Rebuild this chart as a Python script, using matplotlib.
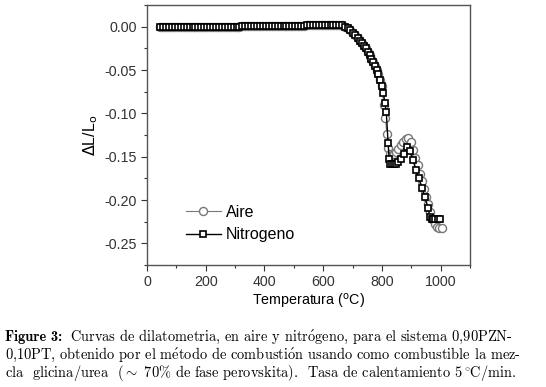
import matplotlib
matplotlib.use("Agg")
import matplotlib.pyplot as plt
from matplotlib.ticker import MultipleLocator, FormatStrFormatter

plt.rcParams['axes.unicode_minus'] = False
plt.rcParams['font.family'] = ['Liberation Sans', 'DejaVu Sans']

# Nitrogeno (squares)
temp_n2 = [45, 55, 65, 75, 85, 95, 105, 115, 125, 135, 145, 155, 165, 175, 185, 195,
           205, 215, 225, 235, 245, 255, 265, 275, 285, 295, 305, 315, 325, 335, 345,
           355, 365, 375, 385, 395, 405, 415, 425, 435, 445, 455, 465, 475, 485, 495,
           505, 515, 525, 535, 545, 555, 565, 575, 585, 595, 605, 615, 625, 635, 645,
           655, 665, 675, 684, 693, 702, 710, 718, 726, 733, 740, 746, 752, 758, 764,
           770, 776, 782, 788, 794, 800, 805, 810, 815, 821, 825, 829, 835, 841, 848,
           856, 865, 875, 885, 895, 906, 916, 926, 937, 947, 957, 964, 969, 975, 982,
           990, 998]
dl_n2 = [0.000, 0.000, 0.000, 0.000, 0.000, 0.000, 0.000, 0.000, 0.000, 0.000, 0.000,
         0.000, 0.000, 0.000, 0.000, 0.000, 0.000, 0.000, 0.000, 0.000, 0.000, 0.000,
         0.000, 0.000, 0.000, 0.000, 0.000, 0.000, 0.0005, 0.0005, 0.0005, 0.0005,
         0.0005, 0.0005, 0.0005, 0.0005, 0.0005, 0.0005, 0.0005, 0.0005, 0.0005,
         0.0005, 0.0005, 0.001, 0.001, 0.001, 0.001, 0.001, 0.001, 0.001, 0.0015,
         0.0015, 0.0015, 0.002, 0.002, 0.002, 0.002, 0.002, 0.002, 0.002, 0.002,
         0.002, 0.0015, 0.000, -0.002, -0.004, -0.007, -0.010, -0.013, -0.016, -0.019,
         -0.022, -0.025, -0.029, -0.033, -0.037, -0.041, -0.045, -0.050, -0.055,
         -0.061, -0.068, -0.076, -0.088, -0.099, -0.134, -0.153, -0.159, -0.159,
         -0.159, -0.158, -0.156, -0.153, -0.147, -0.139, -0.144, -0.154, -0.165,
         -0.175, -0.186, -0.197, -0.209, -0.220, -0.222, -0.222, -0.222, -0.222,
         -0.222]

# Aire (circles)
temp_air = [45, 55, 65, 75, 85, 95, 105, 115, 125, 135, 145, 155, 165, 175, 185, 195,
            205, 215, 225, 235, 245, 255, 265, 275, 285, 295, 305, 315, 325, 335, 345,
            355, 365, 375, 385, 395, 405, 415, 425, 435, 445, 455, 465, 475, 485, 495,
            505, 515, 525, 535, 545, 555, 565, 575, 585, 595, 605, 615, 625, 635, 645,
            655, 665, 675, 684, 693, 702, 710, 718, 726, 733, 740, 746, 752, 758, 764,
            770, 776, 782, 788, 794, 800, 806, 812, 817, 822, 827, 833, 840, 848, 856,
            865, 873, 882, 890, 898, 906, 914, 922, 930, 937, 944, 951, 958, 965, 972,
            980, 988, 996, 1003]
dl_air = [0.000, 0.000, 0.000, 0.000, 0.000, 0.000, 0.000, 0.000, 0.000, 0.000, 0.000,
          0.000, 0.000, 0.000, 0.000, 0.000, 0.000, 0.000, 0.000, 0.000, 0.000, 0.000,
          0.000, 0.000, 0.000, 0.000, 0.000, 0.000, 0.0005, 0.0005, 0.0005, 0.0005,
          0.0005, 0.0005, 0.0005, 0.0005, 0.0005, 0.0005, 0.0005, 0.0005, 0.0005,
          0.0005, 0.0005, 0.001, 0.001, 0.001, 0.001, 0.001, 0.001, 0.001, 0.0015,
          0.0015, 0.0015, 0.002, 0.002, 0.002, 0.002, 0.002, 0.002, 0.002, 0.002,
          0.002, 0.0015, 0.000, -0.002, -0.004, -0.007, -0.010, -0.013, -0.016, -0.019,
          -0.022, -0.025, -0.029, -0.033, -0.037, -0.041, -0.045, -0.050, -0.055,
          -0.061, -0.068, -0.090, -0.105, -0.124, -0.140, -0.147, -0.148, -0.147,
          -0.145, -0.141, -0.136, -0.133, -0.130, -0.129, -0.133, -0.142, -0.152,
          -0.160, -0.170, -0.178, -0.187, -0.196, -0.205, -0.214, -0.222, -0.228,
          -0.231, -0.232, -0.232]

x_ticks = [0, 200, 400, 600, 800, 1000]
y_ticks = [0.00, -0.05, -0.10, -0.15, -0.20, -0.25]

fig = plt.figure(figsize=(5.46, 3.87), dpi=100)
ax = fig.add_axes([147/546, 1 - 265/387, (470-147)/546, (265-5)/387])

ax.plot(temp_air, dl_air, color='#777777', lw=0.8, marker='o', ms=5.8,
        mfc='white', mec='#777777', mew=1.0, label='Aire', zorder=2)
ax.plot(temp_n2, dl_n2, color='black', lw=1.0, marker='s', ms=5.0,
        mfc='white', mec='black', mew=1.2, label='Nitrogeno', zorder=3)

ax.set_xlim(0, 1100)
ax.set_ylim(-0.275, 0.025)
ax.set_xticks(x_ticks)
ax.set_yticks(y_ticks)
ax.xaxis.set_minor_locator(MultipleLocator(100))
ax.yaxis.set_minor_locator(MultipleLocator(0.025))
ax.yaxis.set_major_formatter(FormatStrFormatter('%.2f'))
ax.tick_params(which='major', direction='out', length=4, width=0.8, labelsize=10.3,
               colors='#333333')
ax.tick_params(which='minor', direction='out', length=2.5, width=0.8, colors='#333333')
for s in ax.spines.values():
    s.set_color('#555555')
    s.set_linewidth(1.0)

ax.set_xlabel('Temperatura ($^{\\mathrm{o}}$C)', fontsize=10.3, labelpad=2)
ax.set_ylabel('$\\Delta$L/L$_{\\mathrm{o}}$', fontsize=11.5, labelpad=3)

ax.legend(loc='lower left', bbox_to_anchor=(0.085, 0.045), frameon=False,
          fontsize=11.5, handlelength=2.2, handletextpad=0.3, labelspacing=0.45,
          borderaxespad=0.3)

# caption
cap_fam = ['cmr10', 'DejaVu Serif']
acute_o = '$\\mathrm{\\acute{o}}$'
acute_e = '$\\mathrm{\\acute{e}}$'
cap_kw = dict(fontsize=10.4, family=cap_fam, va='baseline', ha='left', math_fontfamily='cm')
fig.text(5/546, 1 - 341/387, 'Figure 3:', fontsize=10.4, family=['cmb10', 'DejaVu Serif'],
         va='baseline', ha='left')
fig.text(70/546, 1 - 341/387,
         'Curvas de dilatometria, en aire y nitr' + acute_o + 'geno, para el sistema 0,90PZN-',
         **cap_kw)
fig.text(5/546, 1 - 359/387,
         '0,10PT, obtenido por el m' + acute_e + 'todo de combusti' + acute_o +
         'n usando como combustible la mez-', **cap_kw)
fig.text(5/546, 1 - 377/387,
         'cla  glicina/urea  ($\\sim$ 70% de fase perovskita).  Tasa de calentamiento 5$^\\circ\\!$C/min.',
         **cap_kw)

fig.savefig('out.png', dpi=100)
